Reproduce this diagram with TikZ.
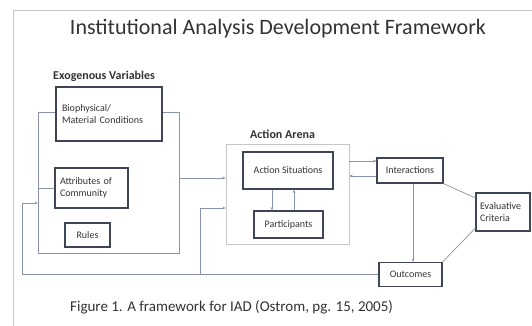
\documentclass[tikz,border=0pt]{standalone}
\usepackage{fontspec}
\setmainfont{Carlito}
\usetikzlibrary{arrows.meta}
\definecolor{boxline}{HTML}{3E4656}
\definecolor{wire}{HTML}{8A94A6}
\definecolor{frameline}{HTML}{C4C6CA}
\definecolor{ink}{HTML}{333333}
\tikzset{
  unit/.style={draw=boxline, line width=1.2pt, inner sep=0pt, text=ink,
    font=\fontsize{10}{12}\selectfont},
  holder/.style={draw=frameline, line width=0.7pt, inner sep=0pt},
  wireline/.style={draw=wire, line width=0.7pt},
  flow/.style={wireline, -{Stealth[length=3.4pt,width=2.8pt]}},
  heading/.style={font=\fontsize{12}{14}\selectfont\bfseries, text=ink, inner sep=0pt}
}
\begin{document}
\begin{tikzpicture}[x=1pt, y=-1pt]
\useasboundingbox (0,0) rectangle (532,326);
\fill[white] (0,0) rectangle (532,326);

% page frame
\draw[frameline, line width=0.7pt] (532,10) -- (13,10) -- (13,326);

% title and caption
\node[font=\fontsize{22}{26}\selectfont, text=ink, inner sep=0pt] (title) at (278,29)
  {Institutional Analysis Development Framework};
\node[font=\fontsize{15}{18}\selectfont, text=ink, inner sep=0pt, anchor=west] (caption) at (70,307)
  {Figure 1. A framework for IAD (Ostrom, pg. 15, 2005)};

% exogenous variables
\node[heading, anchor=west] (exolabel) at (53,76) {Exogenous Variables};
\node[unit, minimum width=106pt, minimum height=54pt, text width=94pt, align=left] (bio) at (109,114)
  {Biophysical/\\Material Conditions};
\node[unit, minimum width=73pt, minimum height=40pt, text width=63pt, align=left] (attr) at (91.5,188)
  {Attributes of\\Community};
\node[unit, minimum width=45pt, minimum height=24pt] (rules) at (87.5,235) {Rules};

\coordinate (exTL) at (38,112);
\coordinate (exTR) at (179,112);
\coordinate (exBL) at (38,253);
\coordinate (exBR) at (179,253);
\coordinate (exOut) at (179,178);
\coordinate (exIn) at (38,203);
\draw[wireline] (bio.west |- exTL) -- (exTL) -- (exBL) -- (exBR) -- (exTR) -- (bio.east |- exTR);
\draw[wireline] (exTL |- attr.west) -- (attr.west);

% action arena
\node[heading, anchor=west] (arenalabel) at (250,134) {Action Arena};
\node[holder, minimum width=123pt, minimum height=100pt] (arena) at (287.5,194) {};
\node[unit, minimum width=90pt, minimum height=37pt] (situ) at (288,170.5) {Action Situations};
\node[unit, minimum width=69pt, minimum height=27pt] (part) at (288.5,224.5) {Participants};
\draw[flow] (situ.south -| 272,0) -- (part.north -| 272,0);
\draw[flow] (part.north -| 294,0) -- (situ.south -| 294,0);

% outcomes side
\node[unit, minimum width=66pt, minimum height=25pt] (inter) at (410,170.5) {Interactions};
\node[unit, minimum width=63pt, minimum height=24pt] (outc) at (410.5,274.5) {Outcomes};
\node[unit, minimum width=54pt, minimum height=38pt, text width=46pt, align=left] (eval) at (503,212)
  {Evaluative\\Criteria};

\draw[flow] (arena.east |- 0,161) -- (inter.west |- 0,161);
\draw[flow] (inter.west |- 0,176) -- (arena.east |- 0,176);
\draw[flow] (inter.south -| 413,0) -- (outc.north -| 413,0);
\draw[wireline] (inter.south east) -- (eval.west |- 0,198);
\draw[wireline] (eval.west |- 0,228) -- (outc.north east);

% links into the arena
\draw[flow] (exOut) -- (arena.west |- exOut);
\coordinate (fbCorner) at (22,0 |- outc.west);
\coordinate (fbTurn) at (22,203);
\coordinate (brBase) at (200,0 |- outc.west);
\coordinate (brTurn) at (200,208);
\draw[wireline] (outc.west) -- (fbCorner) -- (fbTurn);
\draw[flow] (fbTurn) -- (exIn);
\draw[wireline] (brBase) -- (brTurn);
\draw[flow] (brTurn) -- (arena.west |- brTurn);
\end{tikzpicture}
\end{document}
